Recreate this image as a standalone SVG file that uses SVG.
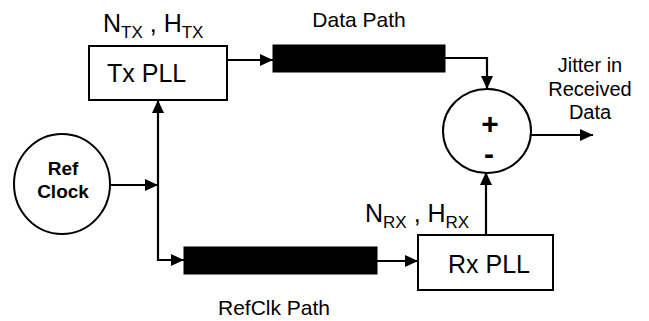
<svg xmlns="http://www.w3.org/2000/svg" width="649" height="321" viewBox="0 0 649 321">
<defs>
<style>
.box{fill:#fff;stroke:#000;stroke-width:2}
.bar{fill:#000;stroke:#000;stroke-width:1}
.ln{fill:none;stroke:#000;stroke-width:2.2}
.t{font-family:"Liberation Sans",Arial,sans-serif;fill:#000}
.b{font-weight:bold}
</style>
<marker id="ah" viewBox="0 0 13 12" refX="13" refY="6" markerWidth="13" markerHeight="12" markerUnits="userSpaceOnUse" orient="auto">
<path d="M0,0 L13,6 L0,12 z" fill="#000"/>
</marker>
</defs>
<rect width="649" height="321" fill="#fff"/>

<g id="connectors">
<path class="ln" d="M227,60 H273" marker-end="url(#ah)"/>
<path class="ln" d="M445,58 H487 V89" marker-end="url(#ah)"/>
<path class="ln" d="M531,135 H593" marker-end="url(#ah)"/>
<path class="ln" d="M110,185 H158" marker-end="url(#ah)"/>
<path class="ln" d="M158,260 V100" marker-end="url(#ah)"/>
<path class="ln" d="M158,259 V260 H184" marker-end="url(#ah)"/>
<path class="ln" d="M377,261 H418" marker-end="url(#ah)"/>
<path class="ln" d="M486,235 V172" marker-end="url(#ah)"/>
</g>

<g id="txpll">
<rect class="box" x="89" y="46" width="138" height="54"/>
<text class="t" x="107" y="82" font-size="25">Tx PLL</text>
<text class="t" x="103" y="32" font-size="25">N<tspan font-size="17" dy="6">TX</tspan><tspan dy="-6"> , H</tspan><tspan font-size="17" dy="6">TX</tspan></text>
</g>

<g id="datapath">
<rect class="bar" x="273" y="45" width="172" height="27"/>
<text class="t" x="359" y="27" font-size="21" text-anchor="middle">Data Path</text>
</g>

<g id="sum">
<ellipse class="box" cx="487" cy="131" rx="44" ry="42"/>
<text class="t b" x="490" y="134" font-size="30" text-anchor="middle">+</text>
<text class="t b" x="489" y="164" font-size="30" text-anchor="middle">-</text>
</g>

<g id="jitter">
<text class="t" x="590" y="72" font-size="20" text-anchor="middle">Jitter in</text>
<text class="t" x="590" y="96" font-size="20" text-anchor="middle">Received</text>
<text class="t" x="590" y="119" font-size="20" text-anchor="middle">Data</text>
</g>

<g id="refclock">
<ellipse class="box" cx="62" cy="184" rx="48" ry="50"/>
<text class="t b" x="63" y="175" font-size="19" text-anchor="middle">Ref</text>
<text class="t b" x="63" y="198" font-size="19" text-anchor="middle">Clock</text>
</g>

<g id="refclkpath">
<rect class="bar" x="184" y="247" width="193" height="27"/>
<text class="t" x="218" y="315" font-size="21">RefClk Path</text>
</g>

<g id="rxpll">
<rect class="box" x="418" y="235" width="135" height="55"/>
<text class="t" x="448" y="273" font-size="25">Rx PLL</text>
<text class="t" x="365" y="222" font-size="25">N<tspan font-size="17" dy="6">RX</tspan><tspan dy="-6"> , H</tspan><tspan font-size="17" dy="6">RX</tspan></text>
</g>
</svg>
